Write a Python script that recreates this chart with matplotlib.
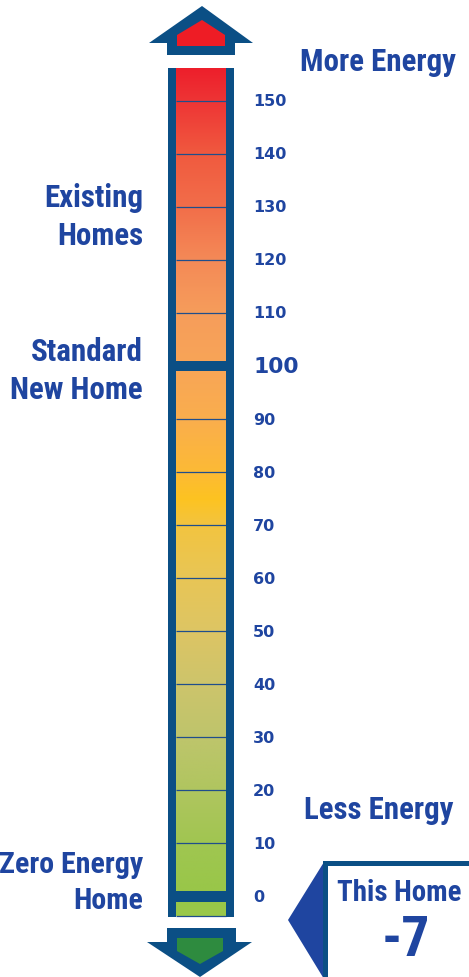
import numpy as np
import matplotlib
matplotlib.use("Agg")
import matplotlib.pyplot as plt
from matplotlib.patches import Polygon, Rectangle
from matplotlib import font_manager as fm

# ---------------- data ----------------
tick_values = [0, 10, 20, 30, 40, 50, 60, 70, 80, 90, 100, 110, 120, 130, 140, 150]
tick_labels = ["0", "10", "20", "30", "40", "50", "60", "70", "80", "90",
               "100", "110", "120", "130", "140", "150"]
scale_min, scale_max = -3.6, 156.2
this_home_score = -7
reference_marks = [0, 100]          # thick bars
# colour anchors along the index scale
grad_values = [-4, 0, 10, 20, 30, 40, 50, 60, 70, 75, 80, 90, 100, 110, 120, 130, 140, 150, 157]
grad_colors = ["#9AC94A", "#98C648", "#A0C651", "#B0C55F", "#BEC56C", "#CDC46B", "#DDC564",
               "#E8C656", "#F2C440", "#FDC321", "#FCBA35", "#FAAE4D", "#F8A557", "#F69D5B",
               "#F48A57", "#F26E4A", "#F05A3F", "#EE3535", "#ED1C2A"]

# ---------------- style ----------------
FRAME = "#0B4F85"
TEXT = "#1F45A0"
names = {f.name for f in fm.fontManager.ttflist}
cond = next((n for n in ["Liberation Sans Narrow", "Roboto Condensed", "Roboto", "Liberation Sans"] if n in names), "DejaVu Sans")

W, H = 469, 978
fig = plt.figure(figsize=(W / 100, H / 100), dpi=100)
ax = fig.add_axes([0, 0, 1, 1])
ax.set_xlim(0, W)
PPU = 5.305      # pixels per index unit
Y0 = 897.5       # pixel row of index 0
ax.set_ylim((Y0 - H) / PPU, Y0 / PPU)
ax.axis("off")

def u(px):
    return (Y0 - px) / PPU

# gradient fill
vv = np.linspace(scale_min, scale_max, 600)
rgb = np.array([matplotlib.colors.to_rgb(c) for c in grad_colors])
img = np.stack([np.interp(vv, grad_values, rgb[:, k]) for k in range(3)], axis=-1)
ax.imshow(img[:, None, :], extent=[176, 226, scale_min, scale_max], origin="lower",
          aspect="auto", interpolation="bilinear", zorder=1)

# segment lines
ax.hlines([t for t in tick_values if t not in reference_marks], 176, 226, color="#1F4E8C", lw=0.9, zorder=2)
ax.hlines([scale_min], 176, 226, color="#1F4E8C", lw=0.9, zorder=2)

# frame
ax.add_patch(Rectangle((168, u(918)), 8, u(69) - u(918), color=FRAME, lw=0, zorder=3))
ax.add_patch(Rectangle((226, u(918)), 8, u(69) - u(918), color=FRAME, lw=0, zorder=3))
for m in reference_marks:
    ax.add_patch(Rectangle((168, m - 5.2 / PPU), 66, 10.4 / PPU, color=FRAME, lw=0, zorder=3))

# top arrow
top = [(149, 44), (202, 7), (253, 44), (235, 44), (235, 56), (167, 56), (167, 44)]
ax.add_patch(Polygon([(x, u(y)) for x, y in top], closed=True, color=FRAME, lw=0, zorder=3))
topin = [(177, 47), (177, 36), (202, 21), (225, 36), (225, 47)]
ax.add_patch(Polygon([(x, u(y)) for x, y in topin], closed=True, color="#EE1C25", lw=0, zorder=4))
# bottom arrow
bot = [(167, 929), (236, 929), (236, 943), (252, 943), (200, 978), (147, 943), (167, 943)]
ax.add_patch(Polygon([(x, u(y)) for x, y in bot], closed=True, color=FRAME, lw=0, zorder=3))
botin = [(177, 939), (223, 939), (223, 952), (200, 965), (177, 952)]
ax.add_patch(Polygon([(x, u(y)) for x, y in botin], closed=True, color="#2E8B3F", lw=0, zorder=4))

# tick labels
for v, lab in zip(tick_values, tick_labels):
    big = v == 100
    ax.text(253, v, lab, ha="left", va="center", color=TEXT, fontweight="bold",
            family="DejaVu Sans", fontsize=15.7 if big else 11.5, zorder=5)

# side labels
tf = dict(color=TEXT, family=[cond, "DejaVu Sans"], fontweight="bold", fontsize=22.3,
          linespacing=1.3)
ax.text(143, u(217), "Existing\nHomes", ha="right", va="center", **tf)
ax.text(143, u(371), "Standard\nNew Home", ha="right", va="center", **tf)
tz = dict(tf, fontsize=21.6, linespacing=1.34)
ax.text(143, u(883), "Zero Energy\nHome", ha="right", va="center", **tz)
ax.text(378, u(62), "More Energy", ha="center", va="center", **tf)
ax.text(378.5, u(810), "Less Energy", ha="center", va="center", **tf)

# This Home box
ax.add_patch(Polygon([(x, u(y)) for x, y in [(324, 863), (288, 921), (324, 980)]],
                     closed=True, color="#1F45A0", lw=0, zorder=3))
ax.add_patch(Rectangle((323, u(990)), 160, u(862) - u(990), facecolor=FRAME, lw=0, zorder=4))
ax.add_patch(Rectangle((328, u(990)), 160, u(867) - u(990), facecolor="white", lw=0, zorder=5))
ax.text(399.5, u(893), "This Home", ha="center", va="center", color=TEXT,
        family=[cond, "DejaVu Sans"], fontweight="bold", fontsize=20.8, zorder=6)
ax.text(406, u(941), f"{this_home_score}", ha="center", va="center", color=TEXT,
        family=[cond, "DejaVu Sans"], fontweight="bold", fontsize=40, zorder=6)

fig.savefig("out.png", dpi=100)
